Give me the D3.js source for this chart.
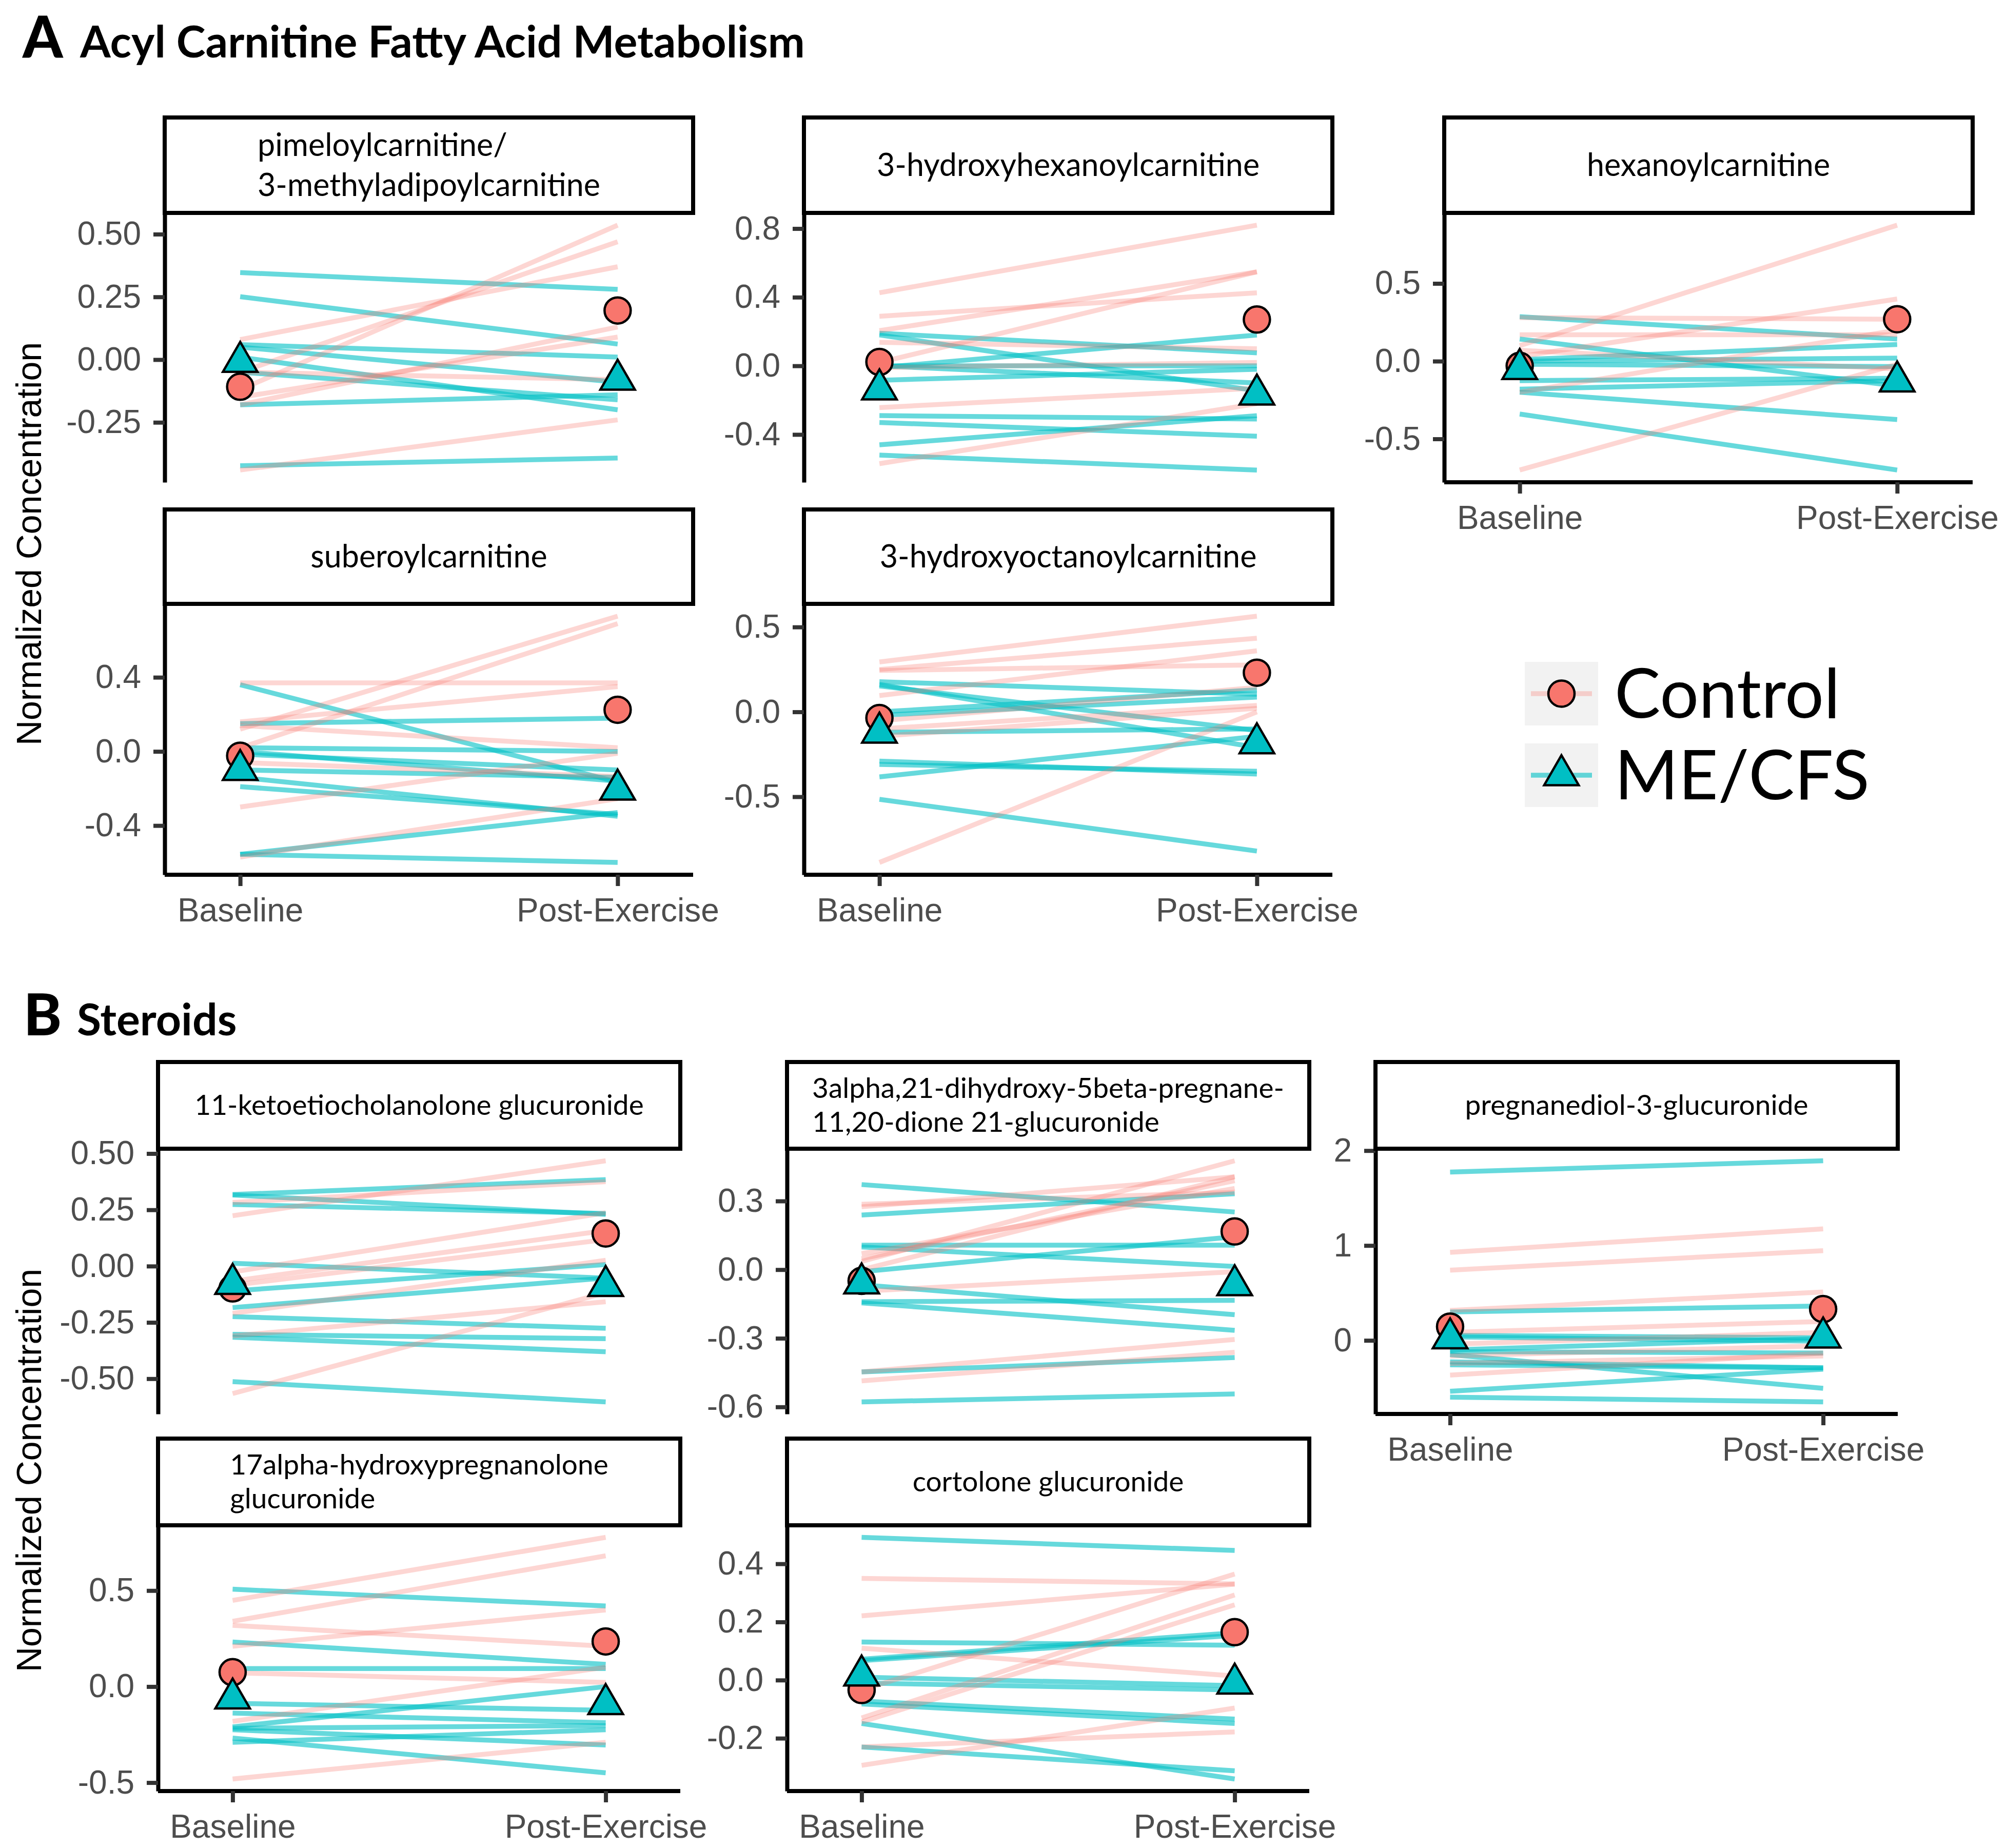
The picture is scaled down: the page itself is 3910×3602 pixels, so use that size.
<!DOCTYPE html>
<html>
<head>
<meta charset="utf-8">
<script src="https://cdn.jsdelivr.net/npm/d3@7"></script>
<style>
  html, body { margin: 0; padding: 0; background: #fff; }
  svg { display: block; }
</style>
</head>
<body>
<div id="chart"></div>
<script>
// Categories
const timepoints = ["Baseline", "Post-Exercise"];
const groups = ["Control", "ME/CFS"];

// Each subject is a [baseline, post-exercise] pair; means are the group markers.
// A: pimeloylcarnitine/3-methyladipoylcarnitine
const pimeloylCtrl = [[-0.12, 0.536], [-0.05, 0.47], [0.08, 0.37], [-0.18, 0.13], [-0.15, 0.09], [-0.05, -0.08], [-0.44, -0.24]];
const pimeloylMe = [[0.347, 0.28], [0.251, 0.062], [0.06, 0.01], [0.05, -0.09], [0.01, -0.2], [-0.05, -0.16], [-0.18, -0.14], [-0.423, -0.392]];
// A: 3-hydroxyhexanoylcarnitine
const hydroxyhexCtrl = [[0.426, 0.82], [0.289, 0.426], [0.205, 0.548], [0.02, 0.548], [0.137, 0.1], [-0.01, 0.02], [-0.243, -0.13], [-0.57, -0.22]];
const hydroxyhexMe = [[0.18, -0.145], [0.19, 0.076], [-0.01, 0.18], [0.0, 0.0], [-0.084, -0.02], [0.0, -0.1], [-0.29, -0.31], [-0.33, -0.41], [-0.46, -0.29], [-0.52, -0.607]];
// A: hexanoylcarnitine
const hexanoylCtrl = [[0.1, 0.875], [0.03, 0.4], [0.28, 0.27], [0.17, 0.17], [0.07, -0.05], [-0.2, 0.2], [-0.7, -0.02]];
const hexanoylMe = [[0.286, 0.143], [0.143, -0.16], [0.01, 0.107], [0.0, 0.02], [-0.02, -0.035], [-0.125, -0.11], [-0.18, -0.125], [-0.2, -0.375], [-0.34, -0.7]];
// A: suberoylcarnitine
const suberoylCtrl = [[0.12, 0.73], [0.02, 0.69], [0.37, 0.37], [0.16, 0.35], [0.14, 0.02], [-0.06, -0.135], [-0.3, -0.01], [-0.57, -0.255]];
const suberoylMe = [[0.36, -0.165], [0.15, 0.18], [0.02, 0.0], [0.0, -0.16], [-0.015, -0.1], [-0.1, -0.14], [-0.14, -0.35], [-0.19, -0.34], [-0.555, -0.33], [-0.555, -0.599]];
// A: 3-hydroxyoctanoylcarnitine
const hydroxyoctCtrl = [[0.294, 0.564], [0.25, 0.434], [0.244, 0.277], [0.096, 0.36], [-0.053, 0.145], [-0.1, 0.038], [-0.144, 0.021], [-0.887, 0.0]];
const hydroxyoctMe = [[0.178, 0.104], [0.162, -0.21], [0.153, -0.11], [0.0, 0.13], [-0.02, 0.087], [-0.12, -0.1], [-0.29, -0.366], [-0.31, -0.35], [-0.383, -0.144], [-0.515, -0.82]];
// B: 11-ketoetiocholanolone glucuronide
const ketoCtrl = [[0.224, 0.468], [0.283, 0.375], [-0.026, 0.237], [-0.066, 0.158], [-0.085, 0.118], [-0.21, 0.026], [-0.31, -0.158], [-0.566, -0.118]];
const ketoMe = [[0.318, 0.384], [0.316, 0.23], [0.274, 0.234], [0.013, -0.053], [-0.11, 0.007], [-0.184, -0.053], [-0.224, -0.276], [-0.303, -0.322], [-0.316, -0.38], [-0.513, -0.603]];
// B: 3alpha,21-dihydroxy-5beta-pregnane-11,20-dione 21-glucuronide
const pregnaneCtrl = [[0.275, 0.406], [0.286, 0.338], [0.036, 0.476], [0.048, 0.389], [0.0, 0.406], [0.07, 0.355], [-0.094, -0.009], [-0.447, -0.305], [-0.486, -0.361]];
const pregnaneMe = [[0.372, 0.252], [0.239, 0.332], [0.107, 0.107], [0.099, 0.014], [-0.009, 0.144], [-0.066, -0.197], [-0.14, -0.134], [-0.145, -0.265], [-0.447, -0.384], [-0.578, -0.543]];
// B: pregnanediol-3-glucuronide
const pregnanediolCtrl = [[0.928, 1.175], [0.74, 0.946], [0.316, 0.51], [0.084, 0.2], [-0.04, 0.084], [-0.164, -0.056], [-0.242, -0.164], [-0.366, -0.133]];
const pregnanediolMe = [[1.774, 1.893], [0.3, 0.363], [0.053, 0.028], [0.037, -0.009], [-0.1, 0.02], [-0.118, -0.133], [-0.149, -0.505], [-0.226, -0.288], [-0.257, -0.29], [-0.536, -0.304], [-0.598, -0.648]];
// B: 17alpha-hydroxypregnanolone glucuronide
const hydroxypregCtrl = [[0.449, 0.777], [0.34, 0.681], [0.319, 0.21], [0.21, 0.399], [0.072, 0.022], [-0.181, 0.101], [-0.481, -0.29]];
const hydroxypregMe = [[0.507, 0.42], [0.232, 0.116], [0.094, 0.094], [-0.087, -0.123], [-0.138, -0.188], [-0.21, 0.0], [-0.217, -0.203], [-0.225, -0.304], [-0.268, -0.449], [-0.29, -0.225]];
// B: cortolone glucuronide
const cortoloneCtrl = [[0.35, 0.331], [0.221, 0.33], [0.11, 0.014], [-0.034, 0.365], [-0.13, 0.293], [-0.144, 0.259], [-0.23, -0.178], [-0.293, -0.096]];
const cortoloneMe = [[0.491, 0.446], [0.131, 0.12], [0.067, 0.154], [0.072, 0.163], [0.01, -0.019], [-0.01, -0.034], [-0.072, -0.134], [-0.082, -0.149], [-0.149, -0.34], [-0.23, -0.312]];

// Group means, one [baseline, post] pair per panel, same order as panelNames
const panelNames = [
  "pimeloylcarnitine/\n3-methyladipoylcarnitine", "3-hydroxyhexanoylcarnitine", "hexanoylcarnitine",
  "suberoylcarnitine", "3-hydroxyoctanoylcarnitine",
  "11-ketoetiocholanolone glucuronide", "3alpha,21-dihydroxy-5beta-pregnane-\n11,20-dione 21-glucuronide",
  "pregnanediol-3-glucuronide", "17alpha-hydroxypregnanolone\nglucuronide", "cortolone glucuronide"
];
const controlMeans = [[-0.108, 0.196], [0.023, 0.27], [-0.03, 0.27], [-0.023, 0.225], [-0.036, 0.231],
                      [-0.099, 0.145], [-0.049, 0.167], [0.146, 0.33], [0.075, 0.235], [-0.034, 0.165]];
const mecfsMeans = [[-0.009, -0.08], [-0.137, -0.167], [-0.05, -0.13], [-0.1, -0.206], [-0.122, -0.185],
                    [-0.079, -0.088], [-0.06, -0.068], [0.022, 0.031], [-0.062, -0.091], [0.016, -0.012]];

// Y tick labels per panel
const yTicks = [
  ["0.50", "0.25", "0.00", "-0.25"], ["0.8", "0.4", "0.0", "-0.4"], ["0.5", "0.0", "-0.5"],
  ["0.4", "0.0", "-0.4"], ["0.5", "0.0", "-0.5"],
  ["0.50", "0.25", "0.00", "-0.25", "-0.50"], ["0.3", "0.0", "-0.3", "-0.6"], ["2", "1", "0"],
  ["0.5", "0.0", "-0.5"], ["0.4", "0.2", "0.0", "-0.2"]
];

const ctrlLines = [pimeloylCtrl, hydroxyhexCtrl, hexanoylCtrl, suberoylCtrl, hydroxyoctCtrl,
                   ketoCtrl, pregnaneCtrl, pregnanediolCtrl, hydroxypregCtrl, cortoloneCtrl];
const meLines = [pimeloylMe, hydroxyhexMe, hexanoylMe, suberoylMe, hydroxyoctMe,
                 ketoMe, pregnaneMe, pregnanediolMe, hydroxypregMe, cortoloneMe];

const width = 3910;
const height = 3602;
const ctrlColor = "#F8766D";
const meColor = "#00BFC4";
const axisFont = "'Liberation Sans', Arial, sans-serif";
const stripFontFamily = "Lato, 'Open Sans', sans-serif";

const svg = d3.select("#chart").append("svg")
    .attr("width", width)
    .attr("height", height)
    .attr("viewBox", [0, 0, width, height]);

svg.append("rect").attr("width", width).attr("height", height).attr("fill", "#fff");

// Facet grid of each section: column lefts, rows and which panels get an x axis
const sections = [
  {
    panels: [0, 1, 2, 3, 4], colX: [321, 1567, 2815], colW: 1030,
    rows: [{stripTop: 229, top: 415, bottom: 940}, {stripTop: 993, top: 1177, bottom: 1705}],
    xAxis: [false, false, true, true, true],
    stripFont: 61, lineGap: 78,
    letter: "A", title: "Acyl Carnitine Fatty Acid Metabolism", titleY: 112, letterX: 44, titleX: 156,
    yTitleY: 1060
  },
  {
    panels: [5, 6, 7, 8, 9], colX: [308, 1534, 2681], colW: 1018,
    rows: [{stripTop: 2070, top: 2239, bottom: 2756}, {stripTop: 2804, top: 2973, bottom: 3491}],
    xAxis: [false, false, true, true, true],
    stripFont: 55, lineGap: 66,
    letter: "B", title: "Steroids", titleY: 2018, letterX: 46, titleX: 150,
    yTitleY: 2866
  }
];

const triangle = d3.symbol(d3.symbolTriangle, 1970);

function drawPanel(k, sec, slot) {
  const col = slot % 3;
  const row = Math.floor(slot / 3);
  const left = sec.colX[col];
  const w = sec.colW;
  const r = sec.rows[row];

  const all = ctrlLines[k].concat(meLines[k]).flat();
  const [lo, hi] = d3.extent(all);
  const pad = (hi - lo) * 0.05;
  const y = d3.scaleLinear().domain([lo - pad, hi + pad]).range([r.bottom, r.top]);
  const x = d3.scalePoint().domain(timepoints).range([left, left + w]).padding(0.2);
  const line = d3.line().x((v, i) => x(timepoints[i])).y(v => y(v));

  const g = svg.append("g");

  // subject lines: ME/CFS underneath, controls on top
  g.append("g").selectAll("path").data(meLines[k]).join("path")
      .attr("d", line).attr("fill", "none")
      .attr("stroke", meColor).attr("stroke-opacity", 0.6).attr("stroke-width", 9.5);
  g.append("g").selectAll("path").data(ctrlLines[k]).join("path")
      .attr("d", line).attr("fill", "none")
      .attr("stroke", ctrlColor).attr("stroke-opacity", 0.3).attr("stroke-width", 9.5);

  // group means
  g.append("g").selectAll("circle").data(controlMeans[k]).join("circle")
      .attr("cx", (v, i) => x(timepoints[i])).attr("cy", v => y(v)).attr("r", 25.5)
      .attr("fill", ctrlColor).attr("stroke", "#000").attr("stroke-width", 4.5);
  g.append("g").selectAll("path").data(mecfsMeans[k]).join("path")
      .attr("d", triangle)
      .attr("transform", (v, i) => `translate(${x(timepoints[i])},${y(v)})`)
      .attr("fill", meColor).attr("stroke", "#000").attr("stroke-width", 4.5)
      .attr("stroke-linejoin", "miter");

  // y axis
  const labels = yTicks[k];
  const yAxis = g.append("g")
      .attr("transform", `translate(${left},0)`)
      .call(d3.axisLeft(y)
        .tickValues(labels.map(Number))
        .tickFormat((d, i) => labels[i])
        .tickSize(22).tickSizeOuter(0).tickPadding(24));
  styleAxis(yAxis);

  // x axis only on the bottom panel of each column
  if (sec.xAxis[slot]) {
    const xAxis = g.append("g")
        .attr("transform", `translate(0,${r.bottom})`)
        .call(d3.axisBottom(x).tickSize(22).tickSizeOuter(0).tickPadding(24));
    styleAxis(xAxis);
    xAxis.select(".domain").attr("d", `M${left},0H${left + w}`);
  }

  // strip
  g.append("rect")
      .attr("x", left).attr("y", r.stripTop)
      .attr("width", w).attr("height", r.top - r.stripTop)
      .attr("fill", "#fff").attr("stroke", "#000").attr("stroke-width", 8);

  const lines = panelNames[k].split("\n");
  const label = g.append("text")
      .attr("font-family", stripFontFamily)
      .attr("font-size", sec.stripFont)
      .attr("fill", "#000");
  lines.forEach((t, i) => label.append("tspan").attr("x", 0).attr("dy", i ? sec.lineGap : 0).text(t));
  const bw = label.node().getBBox().width;
  const cy = (r.stripTop + r.top) / 2;
  const firstBase = cy - (lines.length - 1) * sec.lineGap / 2 + sec.stripFont * 0.34;
  label.attr("transform", `translate(${left + (w - bw) / 2},${firstBase})`);
}

function styleAxis(a) {
  a.select(".domain").attr("stroke", "#000").attr("stroke-width", 8);
  a.selectAll(".tick line").attr("stroke", "#333").attr("stroke-width", 8);
  a.selectAll(".tick text")
      .attr("fill", "#4D4D4D")
      .attr("font-family", axisFont)
      .attr("font-size", 64);
}

sections.forEach(sec => {
  sec.panels.forEach((k, slot) => drawPanel(k, sec, slot));

  svg.append("text")
      .attr("x", sec.letterX).attr("y", sec.titleY)
      .attr("font-family", stripFontFamily).attr("font-weight", 900)
      .attr("font-size", 112).text(sec.letter);
  svg.append("text")
      .attr("x", sec.titleX).attr("y", sec.titleY)
      .attr("font-family", stripFontFamily).attr("font-weight", 700)
      .attr("font-size", 86).text(sec.title);

  svg.append("text")
      .attr("transform", `translate(80,${sec.yTitleY}) rotate(-90)`)
      .attr("text-anchor", "middle")
      .attr("font-family", axisFont).attr("font-size", 68)
      .attr("fill", "#000")
      .text("Normalized Concentration");
});

// legend
const legend = svg.append("g");
const keys = [
  {name: groups[0], color: ctrlColor, opacity: 0.3, y: 1290},
  {name: groups[1], color: meColor, opacity: 0.6, y: 1449}
];
keys.forEach((d, i) => {
  const kx = 2972, kw = 143, kh = 124;
  const cx = kx + kw / 2, cy = d.y + kh / 2;
  legend.append("rect").attr("x", kx).attr("y", d.y).attr("width", kw).attr("height", kh).attr("fill", "#F2F2F2");
  legend.append("line").attr("x1", kx + 12).attr("x2", kx + kw - 12).attr("y1", cy).attr("y2", cy)
      .attr("stroke", d.color).attr("stroke-opacity", d.opacity).attr("stroke-width", 9.5);
  if (i === 0) {
    legend.append("circle").attr("cx", cx).attr("cy", cy).attr("r", 25.5)
        .attr("fill", d.color).attr("stroke", "#000").attr("stroke-width", 4.5);
  } else {
    legend.append("path").attr("d", triangle).attr("transform", `translate(${cx},${cy})`)
        .attr("fill", d.color).attr("stroke", "#000").attr("stroke-width", 4.5);
  }
  legend.append("text")
      .attr("x", kx + kw + 32).attr("y", cy + 47)
      .attr("font-family", stripFontFamily).attr("font-size", 134)
      .attr("fill", "#000").text(d.name);
});
</script>
</body>
</html>
